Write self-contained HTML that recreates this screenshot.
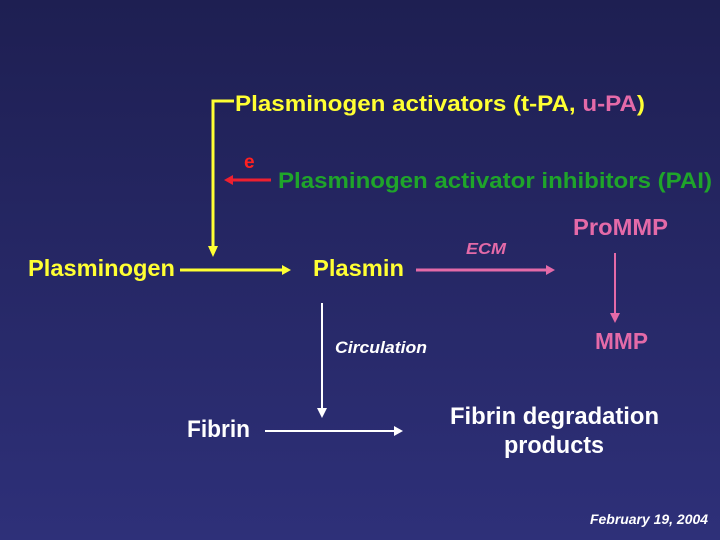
<!DOCTYPE html>
<html><head><style>
html,body{margin:0;padding:0;}
body{width:720px;height:540px;overflow:hidden;background:linear-gradient(#1e1f52,#2e3079);}
svg{display:block}
text{font-family:"Liberation Sans",Arial,sans-serif;font-weight:bold;}
</style></head><body>
<svg width="720" height="540" viewBox="0 0 720 540">
<!-- yellow bracket -->
<polyline points="234,101 213,101 213,248" fill="none" stroke="#ffff33" stroke-width="3"/>
<polygon points="208,246 218,246 213,257" fill="#ffff33"/>
<text x="235" y="111" font-size="22" fill="#ffff33" textLength="410" lengthAdjust="spacingAndGlyphs">Plasminogen activators (t-PA, <tspan fill="#e46aa8">u-PA</tspan>)</text>
<!-- red inhibitor -->
<text x="244" y="168" font-size="19" fill="#ff2020">e</text>
<line x1="271" y1="180" x2="232" y2="180" stroke="#ee2030" stroke-width="3"/>
<polygon points="233,175 233,185 224,180" fill="#ee2030"/>
<text x="278" y="188" font-size="22" fill="#1fa52a" textLength="434" lengthAdjust="spacingAndGlyphs">Plasminogen activator inhibitors (PAI)</text>
<!-- main row -->
<text x="28" y="276" font-size="23" fill="#ffff33" textLength="147" lengthAdjust="spacingAndGlyphs">Plasminogen</text>
<line x1="180" y1="270" x2="284" y2="270" stroke="#ffff33" stroke-width="3"/>
<polygon points="282,265 282,275 291,270" fill="#ffff33"/>
<text x="313" y="276" font-size="23" fill="#ffff33" textLength="91" lengthAdjust="spacingAndGlyphs">Plasmin</text>
<line x1="416" y1="270" x2="548" y2="270" stroke="#e46aa8" stroke-width="3"/>
<polygon points="546,265 546,275 555,270" fill="#e46aa8"/>
<text x="466" y="254" font-size="16" font-style="italic" fill="#e46aa8" textLength="40" lengthAdjust="spacingAndGlyphs">ECM</text>
<text x="573" y="235" font-size="23" fill="#e46aa8" textLength="95" lengthAdjust="spacingAndGlyphs">ProMMP</text>
<line x1="615" y1="253" x2="615" y2="315" stroke="#e46aa8" stroke-width="2"/>
<polygon points="610,313 620,313 615,323" fill="#e46aa8"/>
<text x="595" y="349" font-size="23" fill="#e46aa8" textLength="53" lengthAdjust="spacingAndGlyphs">MMP</text>
<!-- circulation -->
<line x1="322" y1="303" x2="322" y2="410" stroke="#ffffff" stroke-width="2"/>
<polygon points="317,408 327,408 322,418" fill="#ffffff"/>
<text x="335" y="353" font-size="17" font-style="italic" fill="#ffffff" textLength="92" lengthAdjust="spacingAndGlyphs">Circulation</text>
<text x="187" y="437" font-size="24" fill="#ffffff" textLength="63" lengthAdjust="spacingAndGlyphs">Fibrin</text>
<line x1="265" y1="431" x2="395" y2="431" stroke="#ffffff" stroke-width="2"/>
<polygon points="394,426 394,436 403,431" fill="#ffffff"/>
<text x="450" y="424" font-size="24" fill="#ffffff" textLength="209" lengthAdjust="spacingAndGlyphs">Fibrin degradation</text>
<text x="504" y="453" font-size="24" fill="#ffffff" textLength="100" lengthAdjust="spacingAndGlyphs">products</text>
<text x="590" y="524" font-size="14" font-style="italic" fill="#ffffff" textLength="118" lengthAdjust="spacingAndGlyphs">February 19, 2004</text>
</svg>
</body></html>
